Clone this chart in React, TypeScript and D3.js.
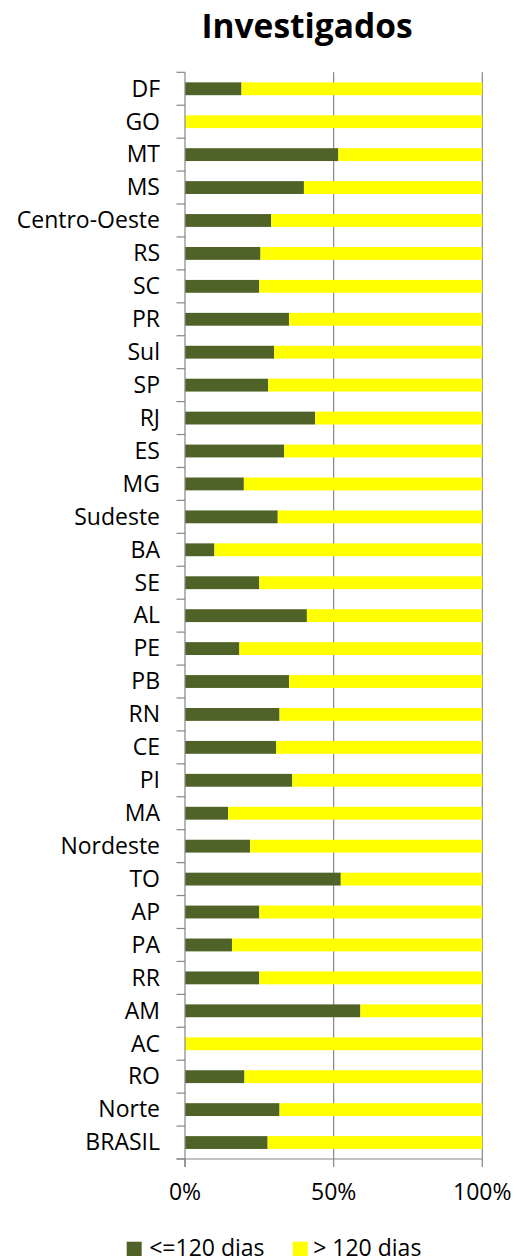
import React from "react";
import * as d3 from "d3";

const categories = [
  "DF", "GO", "MT", "MS", "Centro-Oeste", "RS", "SC", "PR", "Sul", "SP", "RJ", "ES", "MG", "Sudeste",
  "BA", "SE", "AL", "PE", "PB", "RN", "CE", "PI", "MA", "Nordeste", "TO", "AP", "PA", "RR", "AM", "AC",
  "RO", "Norte", "BRASIL",
];
const ate120 = [
  0.19, 0.0, 0.516, 0.40, 0.29, 0.254, 0.25, 0.35, 0.30, 0.28, 0.438, 0.333, 0.198, 0.312,
  0.099, 0.25, 0.41, 0.183, 0.35, 0.318, 0.307, 0.361, 0.145, 0.219, 0.524, 0.25, 0.158, 0.25, 0.59, 0.0,
  0.20, 0.318, 0.278,
];
const mais120 = ate120.map((v) => 1 - v);
const xTicks = [0, 0.5, 1];
const seriesNames = ["<=120 dias", "> 120 dias"];
const seriesColors = ["#4F6228", "#FFFF00"];

const W = 515;
const H = 1256;
const left = 185;
const right = 482.3;
const top = 72.3;
const bottom = 1159;
const FONT = "'Open Sans', sans-serif";

export default function App() {
  const x = d3.scaleLinear().domain([0, 1]).range([left, right]);
  const y = d3.scaleBand<string>().domain(categories).range([top, bottom]).paddingInner(0.61).paddingOuter(0.305);
  const step = y.step();
  const axisColor = "#868686";

  return (
    <div style={{ position: "absolute", left: 0, top: 0 }}>
      <svg width={W} height={H} style={{ display: "block", background: "#fff" }}>
        <text x={307} y={38} textAnchor="middle" fontFamily={FONT} fontWeight={700} fontSize={33.5} fill="#000">
          Investigados
        </text>
        {xTicks.slice(1).map((t) => (
          <line key={"g" + t} x1={x(t)} x2={x(t)} y1={top} y2={bottom} stroke={axisColor} strokeWidth={1.2} />
        ))}
        {categories.map((c, i) => {
          const by = y(c)!;
          const bh = y.bandwidth();
          return (
            <g key={c}>
              <rect x={x(0)} y={by} width={x(ate120[i]) - x(0)} height={bh} fill={seriesColors[0]} />
              <rect x={x(ate120[i])} y={by} width={x(ate120[i] + mais120[i]) - x(ate120[i])} height={bh} fill={seriesColors[1]} />
            </g>
          );
        })}
        <line x1={left} x2={left} y1={top} y2={bottom + 8} stroke={axisColor} strokeWidth={1.2} />
        {d3.range(categories.length + 1).map((k) => (
          <line key={"yt" + k} x1={left - 8.5} x2={left} y1={top + k * step} y2={top + k * step} stroke={axisColor} strokeWidth={1.2} />
        ))}
        {categories.map((c) => (
          <text key={"yl" + c} x={160} y={y(c)! + y.bandwidth() / 2} dy="0.34em" textAnchor="end" fontFamily={FONT} fontSize={23} fill="#000">
            {c}
          </text>
        ))}
        <line x1={left - 8.5} x2={right} y1={bottom} y2={bottom} stroke={axisColor} strokeWidth={1.2} />
        {xTicks.map((t) => (
          <g key={"xt" + t}>
            <line x1={x(t)} x2={x(t)} y1={bottom} y2={bottom + 8} stroke={axisColor} strokeWidth={1.2} />
            <text x={x(t)} y={1200} textAnchor="middle" fontFamily={FONT} fontSize={23} fill="#000">
              {d3.format(".0%")(t)}
            </text>
          </g>
        ))}
        {seriesNames.map((s, i) => {
          const lx = [126.7, 292.7][i];
          return (
            <g key={s}>
              <rect x={lx} y={1241.7} width={15} height={15} fill={seriesColors[i]} />
              <text x={lx + (i === 0 ? 22.5 : 20.5)} y={1256} fontFamily={FONT} fontSize={23} fill="#000">
                {s}
              </text>
            </g>
          );
        })}
      </svg>
    </div>
  );
}
